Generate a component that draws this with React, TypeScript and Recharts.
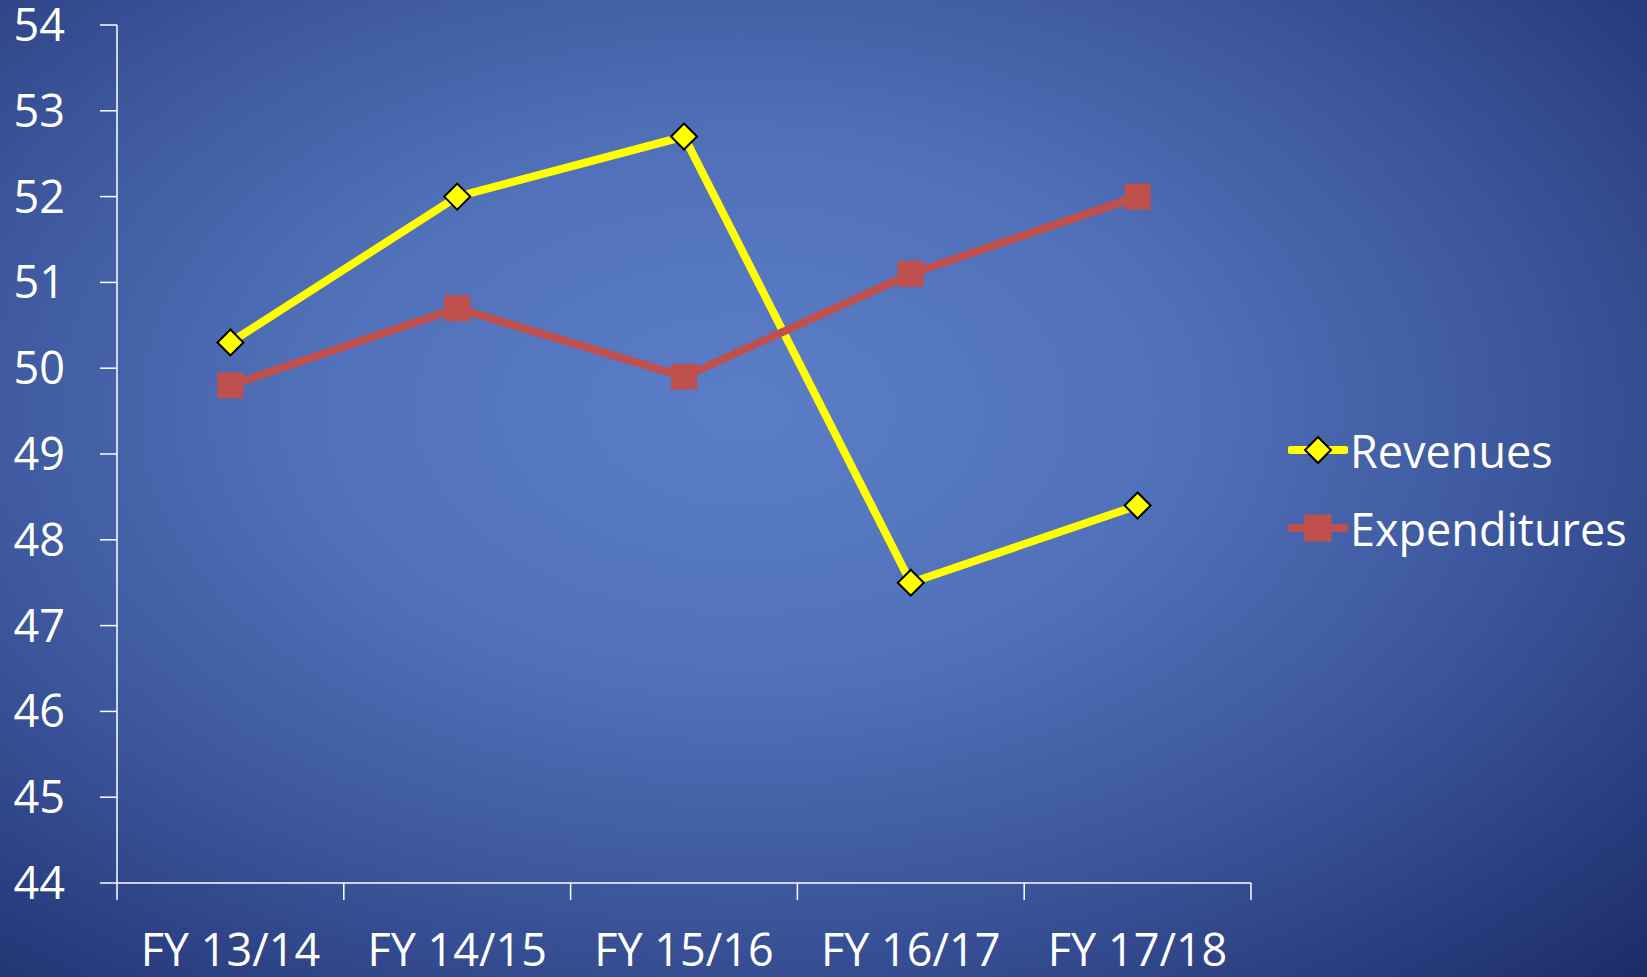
import { LineChart, Line, XAxis, YAxis } from "recharts";

const categories = ["FY 13/14", "FY 14/15", "FY 15/16", "FY 16/17", "FY 17/18"];
const revenues = [50.3, 52.0, 52.7, 47.5, 48.4];
const expenditures = [49.8, 50.7, 49.9, 51.1, 52.0];
const yTicks = [44, 45, 46, 47, 48, 49, 50, 51, 52, 53, 54];
const seriesNames = ["Revenues", "Expenditures"];

const data = categories.map((name, i) => ({
  name,
  Revenues: revenues[i],
  Expenditures: expenditures[i],
}));

const FONT = "'Open Sans', 'Noto Sans', sans-serif";
const YELLOW = "#FFFF00";
const RED = "#C0504D";
const HALF_BAND = 113.4;

const Diamond = ({ cx, cy, r = 13 }: any) => (
  <polygon
    points={`${cx},${cy - r} ${cx + r},${cy} ${cx},${cy + r} ${cx - r},${cy}`}
    fill={YELLOW}
    stroke="#000"
    strokeWidth={2}
  />
);

const Square = ({ cx, cy, s = 26 }: any) => (
  <rect x={cx - s / 2} y={cy - s / 2} width={s} height={s} fill={RED} />
);

const XTick = ({ x, y, payload, index, visibleTicksCount }: any) => (
  <g>
    <line x1={x - HALF_BAND} x2={x - HALF_BAND} y1={y} y2={y + 17} stroke="#fff" strokeWidth={1.5} />
    {index === visibleTicksCount - 1 && (
      <line x1={x + HALF_BAND} x2={x + HALF_BAND} y1={y} y2={y + 17} stroke="#fff" strokeWidth={1.5} />
    )}
    <text x={x} y={y + 83} textAnchor="middle" fill="#fff" fontSize={45} fontFamily={FONT}>
      {payload.value}
    </text>
  </g>
);

const ChartLegend = () => (
  <div style={{ position: "absolute", left: 1288, top: 411 }}>
    {seriesNames.map((name) => (
      <div key={name} style={{ display: "flex", alignItems: "center", height: 78 }}>
        <svg width={60} height={40} style={{ marginRight: 2 }}>
          <line
            x1={3}
            x2={57}
            y1={20}
            y2={20}
            stroke={name === "Revenues" ? YELLOW : RED}
            strokeWidth={8}
            strokeLinecap="round"
          />
          {name === "Revenues" ? <Diamond cx={30} cy={20} r={13} /> : <Square cx={30} cy={20} s={27} />}
        </svg>
        <span style={{ color: "#fff", fontSize: 45, fontFamily: FONT, whiteSpace: "nowrap" }}>{name}</span>
      </div>
    ))}
  </div>
);

export default function App() {
  return (
    <div
      style={{
        position: "absolute",
        left: 0,
        top: 0,
        width: 1647,
        height: 977,
        overflow: "hidden",
        background:
          "radial-gradient(ellipse 78% 82% at 45% 42%, #5B7DC8 0%, #5172BA 32%, #3C569C 62%, #273B7C 86%, #1C2B66 100%)",
      }}
    >
      <LineChart width={1647} height={977} data={data} margin={{ top: 25, right: 396, bottom: 0, left: 0 }}>
        <XAxis
          dataKey="name"
          height={94}
          padding={{ left: HALF_BAND, right: HALF_BAND }}
          interval={0}
          tickSize={0}
          tickMargin={0}
          tickLine={false}
          axisLine={{ stroke: "#fff", strokeWidth: 1.5 }}
          tick={<XTick />}
        />
        <YAxis
          width={117}
          domain={[44, 54]}
          ticks={yTicks}
          interval={0}
          tickSize={17}
          tickMargin={35}
          axisLine={{ stroke: "#fff", strokeWidth: 1.5 }}
          tickLine={{ stroke: "#fff", strokeWidth: 1.5 }}
          tick={{ fill: "#fff", fontSize: 45, fontFamily: FONT }}
        />
        <Line
          dataKey="Revenues"
          stroke={YELLOW}
          strokeWidth={8}
          isAnimationActive={false}
          activeDot={false}
          dot={(p: any) => <Diamond key={`rev-${p.index}`} cx={p.cx} cy={p.cy} />}
        />
        <Line
          dataKey="Expenditures"
          stroke={RED}
          strokeWidth={8}
          isAnimationActive={false}
          activeDot={false}
          dot={(p: any) => <Square key={`exp-${p.index}`} cx={p.cx} cy={p.cy} />}
        />
      </LineChart>
      <ChartLegend />
    </div>
  );
}
